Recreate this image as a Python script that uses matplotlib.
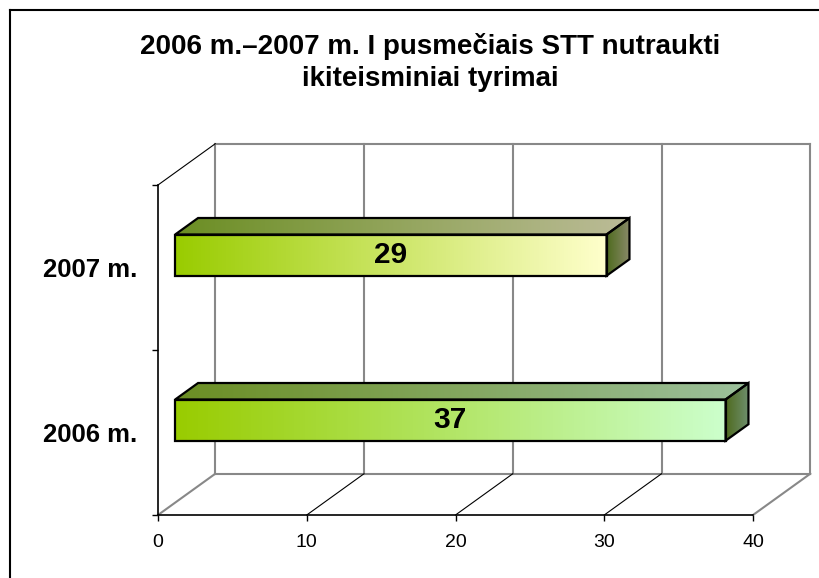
import numpy as np
import matplotlib.pyplot as plt
from matplotlib.patches import Polygon
from matplotlib.lines import Line2D
from matplotlib.colors import LinearSegmentedColormap

plt.rcParams['font.family'] = ['Liberation Sans', 'DejaVu Sans']

title = "2006 m.\u20132007 m. I pusme\u010diais STT nutraukti\nikiteisminiai tyrimai"
years = ["2006 m.", "2007 m."]
values = [37, 29]
x_ticks = [0, 10, 20, 30, 40]

# face colours, left -> right
front_cols = [("#99cc00", "#ccffcc"), ("#99cc00", "#ffffcc")]
top_cols = [("#6b8e23", "#9cc09c"), ("#6b8e23", "#bcbc98")]
side_cols = [("#4f6b1f", "#6f8f6f"), ("#4f6b1f", "#8a8a6a")]

DX, DY = 3.85, 0.25   # depth of the 3d box, data units
D0, D1 = 0.30, 0.70   # bar front / back depth
HALF = 0.125


def proj(x, y, d):
    return (x + d * DX, y + d * DY)


def grad_face(ax, pts, c0, c1):
    pts = np.array(pts)
    poly = Polygon(pts, closed=True, facecolor='none', edgecolor='black',
                   lw=1.6, zorder=5, clip_on=False, joinstyle='miter')
    ax.add_patch(poly)
    cmap = LinearSegmentedColormap.from_list('g', [c0, c1])
    im = ax.imshow(np.linspace(0, 1, 256).reshape(1, -1), cmap=cmap,
                   extent=[pts[:, 0].min(), pts[:, 0].max(), pts[:, 1].min(), pts[:, 1].max()],
                   aspect='auto', zorder=4, interpolation='bilinear')
    im.set_clip_path(poly)


def seg(ax, p, q, color, lw):
    ax.add_line(Line2D([p[0], q[0]], [p[1], q[1]], color=color, lw=lw, zorder=2, clip_on=False))


fig = plt.figure(figsize=(8.19, 5.78), dpi=100)
ax = fig.add_axes([158 / 819, 63 / 578, 595 / 819, 330 / 578])
ax.set_facecolor('none')

grey = '#888888'
ylo, yhi = -0.5, len(years) - 0.5
# back wall
for v in x_ticks:
    seg(ax, proj(v, ylo, 1), proj(v, yhi, 1), grey, 1.5)
seg(ax, proj(0, yhi, 1), proj(40, yhi, 1), grey, 1.5)
seg(ax, proj(0, ylo, 1), proj(40, ylo, 1), grey, 1.5)
# floor
for v in x_ticks:
    if v in (0, 40):
        seg(ax, proj(v, ylo, 0), proj(v, ylo, 1), grey, 1.5)
    else:
        seg(ax, proj(v, ylo, 0), proj(v, ylo, 1), 'black', 0.8)
# left wall top edge
seg(ax, proj(0, yhi, 0), proj(0, yhi, 1), 'black', 0.8)

# bars
for i, v in enumerate(values):
    y0, y1 = i - HALF, i + HALF
    front = [proj(0, y0, D0), proj(v, y0, D0), proj(v, y1, D0), proj(0, y1, D0)]
    top = [proj(0, y1, D0), proj(v, y1, D0), proj(v, y1, D1), proj(0, y1, D1)]
    side = [proj(v, y0, D0), proj(v, y0, D1), proj(v, y1, D1), proj(v, y1, D0)]
    grad_face(ax, top, *top_cols[i])
    grad_face(ax, side, *side_cols[i])
    grad_face(ax, front, *front_cols[i])
    cx, cy = proj(v / 2, i, D0)
    ax.text(cx, cy, str(v), ha='center', va='center', fontsize=21.5,
            fontweight='bold', zorder=6)

ax.set_xlim(0, 40)
ax.set_ylim(ylo, yhi)
ax.spines['top'].set_visible(False)
ax.spines['right'].set_visible(False)
for s in ('left', 'bottom'):
    ax.spines[s].set_linewidth(1.2)
    ax.spines[s].set_color('black')
ax.set_xticks(x_ticks)
ax.tick_params(axis='x', length=4.5, width=1, pad=9, labelsize=14)
ax.set_yticks(range(len(years)))
ax.set_yticklabels(years, fontsize=18.5, fontweight='bold')
ax.set_yticks([ylo + k for k in range(len(years) + 1)], minor=True)
ax.tick_params(axis='y', which='major', length=0, pad=15)
ax.tick_params(axis='y', which='minor', length=4.5, width=1)

fig.text(430.5 / 819, 1 - 62 / 578, title, ha='center', va='center',
         fontsize=20, fontweight='bold', linespacing=1.3)

# chart border (only left and top visible in the crop)
fig.add_artist(Line2D([10 / 819, 1], [1 - 10 / 578, 1 - 10 / 578], color='black', lw=1.5))
fig.add_artist(Line2D([10 / 819, 10 / 819], [0, 1 - 10 / 578], color='black', lw=1.5))

fig.savefig('out.png', dpi=100)
